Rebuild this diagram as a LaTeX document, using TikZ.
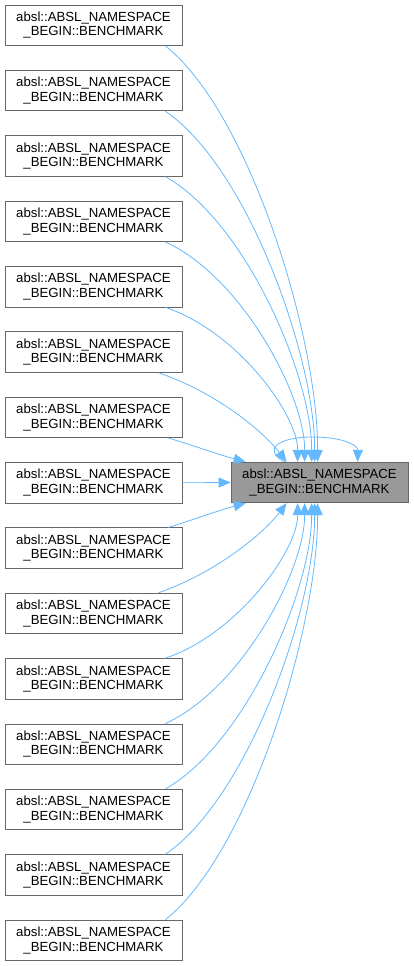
\documentclass[tikz,border=0pt]{standalone}
\usepackage{fontspec}
\setmainfont{Liberation Sans}
\usetikzlibrary{arrows.meta}
\definecolor{edgec}{HTML}{63B8FF}
\definecolor{boxline}{HTML}{666666}
\definecolor{hl}{HTML}{999999}
\tikzset{
 fn/.style={draw=boxline, fill=white, minimum width=177pt, minimum height=40.5pt, inner sep=0pt, align=center, font=\fontsize{13.2}{14.5}\selectfont, line width=0.8pt},
 cur/.style={fn, fill=hl},
 edge/.style={draw=edgec, line width=0.8pt, -{Triangle[length=12pt,width=10pt]}},
}
\begin{document}
\begin{tikzpicture}[x=1pt,y=-1pt]
\useasboundingbox (0,0) rectangle (413,966);
\node[cur] (c) at (319.5,482.5) {absl::ABSL\_NAMESPACE\\\_BEGIN::BENCHMARK};
\foreach \i in {1,...,15} {
  \pgfmathsetmacro\yc{5+65.36*(\i-1)+20.25}
  \node[fn] (n\i) at (93.5,\yc) {absl::ABSL\_NAMESPACE\\\_BEGIN::BENCHMARK};
}
% upper callers
\foreach \i/\xe in {1/318,2/315,3/312,4/305,5/298} {
  \pgfmathsetmacro\yb{5+65.36*(\i-1)+40.5}
  \pgfmathsetmacro\dx{\xe-231}
  \pgfmathsetmacro\ax{165+0.55*(\xe-165)}
  \pgfmathsetmacro\ay{\yb+0.16*(462-\yb)}
  \pgfmathsetmacro\by{\yb+0.7*(462-\yb)}
  \draw[edge] ([xshift=-17pt]n\i.south east) .. controls (\ax,\ay) and (\xe,\by) .. ([xshift=\dx pt]c.north west);
}
% lower callers (mirror)
\foreach \i/\xe in {15/318,14/315,13/312,12/305,11/298} {
  \pgfmathsetmacro\yt{5+65.36*(\i-1)}
  \pgfmathsetmacro\dx{\xe-231}
  \pgfmathsetmacro\ax{165+0.55*(\xe-165)}
  \pgfmathsetmacro\ay{\yt-0.16*(\yt-503)}
  \pgfmathsetmacro\by{\yt-0.7*(\yt-503)}
  \draw[edge] ([xshift=-17pt]n\i.north east) .. controls (\ax,\ay) and (\xe,\by) .. ([xshift=\dx pt]c.south west);
}
\draw[edge] ([xshift=-24pt]n6.south east) .. controls (215,392) and (262,430) .. ([xshift=56pt]c.north west);
\draw[edge] ([xshift=-24pt]n10.north east) .. controls (215,573) and (262,535) .. ([xshift=56pt]c.south west);
\draw[edge] ([xshift=-14pt]n7.south east) .. controls (195,446) and (220,455) .. ([xshift=15pt]c.north west);
\draw[edge] (n8.east) -- (c.west);
\draw[edge] ([xshift=-14pt]n9.north east) .. controls (195,519) and (220,510) .. ([xshift=15pt]c.south west);
% self call
\draw[edge] ([xshift=54pt]c.north west) .. controls (262,450) and (278,437) .. (312,437) .. controls (345,437) and (358,446) .. ([xshift=127pt]c.north west);
\end{tikzpicture}
\end{document}
